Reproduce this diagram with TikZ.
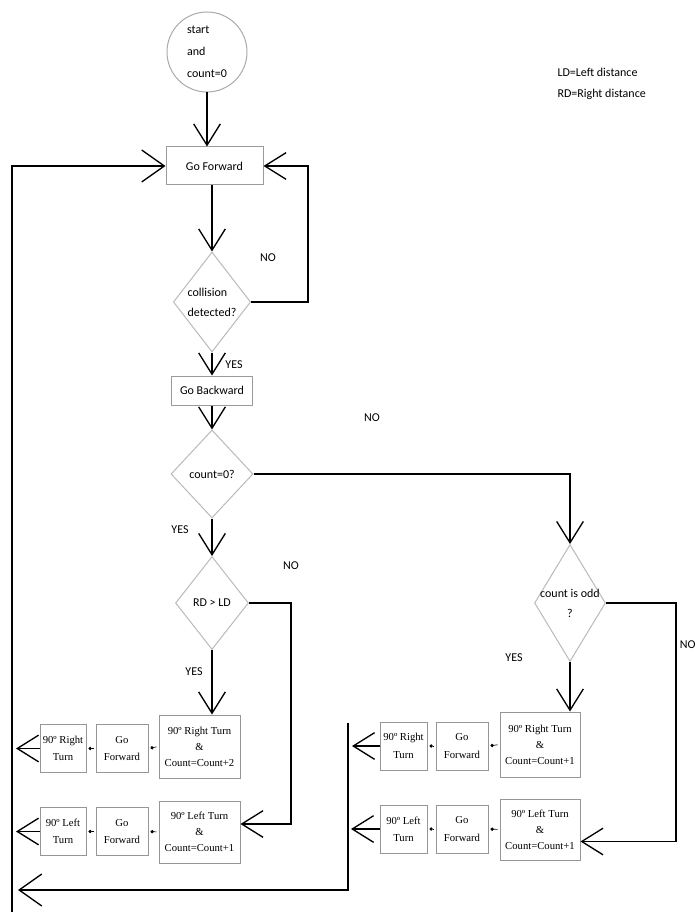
\documentclass[tikz,border=0pt]{standalone}
\usepackage{fontspec}
\setmainfont{Carlito}
\newfontfamily\boxfont{Liberation Serif}
\usetikzlibrary{shapes.geometric,arrows.meta}

\tikzset{every picture/.style={line width=0.75pt}}
\tikzset{
  startnode/.style={circle, draw={rgb, 255:red, 170; green, 170; blue, 170}, inner sep=0pt, minimum size=60pt, align=left, font=\fontsize{9}{16.5}\selectfont},
  flowbox/.style={rectangle, draw={rgb, 255:red, 155; green, 155; blue, 155}, inner sep=0.75pt, align=center, font=\fontsize{9}{11}\selectfont},
  decision/.style={diamond, draw={rgb, 255:red, 185; green, 185; blue, 185}, inner sep=0pt, align=left, font=\fontsize{9}{15}\selectfont},
  turnbox/.style={rectangle, draw={rgb, 255:red, 150; green, 150; blue, 150}, inner sep=1pt, align=center, font=\boxfont\fontsize{8}{12}\selectfont},
  stepbox/.style={turnbox, minimum height=36pt, font=\boxfont\fontsize{8}{13}\selectfont},
  lbl/.style={inner sep=0.75pt, font=\fontsize{9}{11}\selectfont},
  conn/.style={line width=1pt, -{Straight Barb[length=16pt,width=20pt,line width=1pt]}},
  retn/.style={line width=1.5pt, -{Straight Barb[length=17pt,width=24pt,line width=1pt]}},
  dotlink/.style={line width=0.5pt, shorten >=1.5pt, shorten <=1.5pt, -{Circle[length=2.5pt]}}
}

\begin{document}
\begin{tikzpicture}[x=0.75pt,y=0.75pt,yscale=-1,xscale=1]
\useasboundingbox (0,0) rectangle (698,912);

%Shape: Circle
\node [startnode] (start) at (207,52) {start\\and\\count=0};

%Shape: Rectangle
\node [flowbox, minimum width=72.75pt, minimum height=28.5pt] (gofwd) at (214.5,166) {Go Forward};
\node [flowbox, minimum width=60.75pt, minimum height=21.75pt] (gobwd) at (212,390.5) {Go Backward};

%Shape: Diamond
\node [decision, minimum width=57pt, minimum height=75pt] (collide) at (212,302) {collision\\detected?};
\node [decision, minimum width=61.5pt, minimum height=66pt, align=center] (zero) at (212,474) {count=0?};
\node [decision, minimum width=54.75pt, minimum height=69.75pt, align=center] (rdld) at (212,603) {RD > LD};
\node [decision, minimum width=53.25pt, minimum height=87.75pt, inner xsep=-8pt, align=center] (odd) at (570,603) {count is odd\\?};

%Shape: Rectangle (left rows)
\node [turnbox, minimum width=60.75pt, minimum height=47.25pt] (rturnA) at (199.5,746.5) {90º Right Turn\\\&\\Count=Count+2};
\node [stepbox, minimum width=39pt] (fwdA) at (122,748.5) {Go\\Forward};
\node [stepbox, minimum width=34.5pt] (rgtA) at (63,748.5) {90º Right\\Turn};
\node [turnbox, minimum width=60.75pt, minimum height=46.5pt] (lturnA) at (199.5,832) {90º Left Turn\\\&\\Count=Count+1};
\node [stepbox, minimum width=39pt] (fwdB) at (122,831.5) {Go\\Forward};
\node [stepbox, minimum width=34.5pt] (lftA) at (63,831.5) {90º Left\\Turn};

%Shape: Rectangle (right rows)
\node [turnbox, minimum width=60pt, minimum height=48.75pt] (rturnB) at (540,744.5) {90º Right Turn\\\&\\Count=Count+1};
\node [stepbox, minimum width=39pt] (fwdC) at (462,746) {Go\\Forward};
\node [stepbox, minimum width=35.25pt] (rgtB) at (403.5,746) {90º Right\\Turn};
\node [turnbox, minimum width=60pt, minimum height=45.75pt] (lturnB) at (540,829.5) {90º Left Turn\\\&\\Count=Count+1};
\node [stepbox, minimum width=39pt] (fwdD) at (462,829) {Go\\Forward};
\node [stepbox, minimum width=35.25pt] (lftB) at (403.5,829) {90º Left\\Turn};

%Free ends
\coordinate (lexitA) at (16,748.5);
\coordinate (lexitB) at (16,831.5);
\coordinate (rexitA) at (352,746);
\coordinate (rexitB) at (351,829);
\coordinate (backtop) at (348,723);
\coordinate (backend) at (18,890);
\coordinate (leftbot) at (12,912);

%Straight Lines
\draw [conn] (start.south) -- (start.south |- gofwd.north);
\draw [conn] (collide.north |- gofwd.south) -- (collide.north);
\draw [conn] (collide.east) -- ++(57,0) |- (gofwd.east);
\draw [conn] (collide.south) -- (gobwd.north);
\draw [conn] (gobwd.south) -- (zero.north);
\draw [conn] (zero.east) -| (odd.north);
\draw [conn] (zero.south) -- (rdld.north);
\draw [conn] (rdld.south) -- (rdld.south |- rturnA.north);
\draw [conn] (rdld.east) -- ++(42,0) |- ([yshift=-6pt]lturnA.east);
\draw [conn] (odd.south) -- (odd.south |- rturnB.north);
\draw [conn] (odd.east) -- ++(70,0) |- ([yshift=9pt]lturnB.east);

%Row links
\draw [dotlink] (rturnA.west) -- (fwdA.east);
\draw [dotlink] (fwdA.west) -- (rgtA.east);
\draw [conn] (rgtA.west) -- (lexitA);
\draw [dotlink] (lturnA.west) -- (fwdB.east);
\draw [dotlink] (fwdB.west) -- (lftA.east);
\draw [conn] (lftA.west) -- (lexitB);
\draw [dotlink] (rturnB.west) -- (fwdC.east);
\draw [dotlink] (fwdC.west) -- (rgtB.east);
\draw [conn] (rgtB.west) -- (rexitA);
\draw [dotlink] (lturnB.west) -- (fwdD.east);
\draw [dotlink] (fwdD.west) -- (lftB.east);
\draw [conn] (lftB.west) -- (rexitB);

%Return lines
\draw [retn] (backtop) |- (backend);
\draw [retn] (leftbot) |- (gofwd.west);

% Text Node
\node [lbl] (noA) at (268,258) {NO};
% Text Node
\node [lbl] (yesA) at (234,365) {YES};
% Text Node
\node [lbl] (noB) at (372,418) {NO};
% Text Node
\node [lbl] (yesB) at (180,530) {YES};
% Text Node
\node [lbl] (noC) at (291,566) {NO};
% Text Node
\node [lbl] (yesC) at (194,672) {YES};
% Text Node
\node [lbl] (yesD) at (514,658) {YES};
% Text Node
\node [lbl, anchor=east] (noD) at (697,645) {NO};
% Text Node
\node [lbl, anchor=west] (ldkey) at (556,72) {LD=Left distance};
% Text Node
\node [lbl, anchor=west] (rdkey) at (556,94) {RD=Right distance};

\end{tikzpicture}
\end{document}
